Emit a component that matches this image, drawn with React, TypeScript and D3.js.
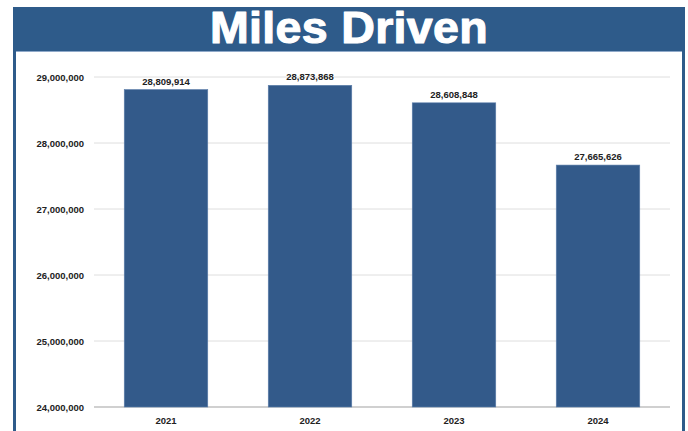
import React from "react";
import * as d3 from "d3";

const categories = ["2021", "2022", "2023", "2024"];
const values = [28809914, 28873868, 28608848, 27665626];
const yTicks = [24000000, 25000000, 26000000, 27000000, 28000000, 29000000];
const title = "Miles Driven";

export default function App() {
  const W = 688, H = 431;
  const x = d3.scaleBand<string>().domain(categories).range([94, 670]).paddingInner(0.42).paddingOuter(0.21);
  const y = d3.scaleLinear().domain([24000000, 29000000]).range([407, 77]);
  const fmt = d3.format(",");
  const font = "'Liberation Sans', Arial, sans-serif";
  return (
    <svg width={W} height={H} style={{ position: "absolute", left: 0, top: 0 }}>
      <rect x={0} y={0} width={W} height={H} fill="#fff" />
      <rect x={13} y={7} width={672} height={440} fill="#2e5b8a" />
      <rect x={16} y={51} width={666} height={400} fill="#fff" />
      <line x1={16} x2={682} y1={51.5} y2={51.5} stroke="#8fa9c9" strokeWidth={1} />
      <text transform="translate(349,43) scale(1.07,1)" textAnchor="middle" fill="#fff" stroke="#fff" strokeWidth={1.1} strokeLinejoin="round" fontFamily={font} fontWeight="bold" fontSize={43.5} style={{ letterSpacing: "0.3px" }}>{title}</text>
      {yTicks.map((t) => (
        <g key={t}>
          <line x1={94} x2={670} y1={y(t)} y2={y(t)} stroke={t === 24000000 ? "#d0d0d0" : "#dedede"} strokeWidth={t === 24000000 ? 2 : 1} />
          <text x={84} y={y(t) + 3.5} textAnchor="end" fontFamily={font} fontWeight="bold" fontSize={9.5} fill="#222">{fmt(t)}</text>
        </g>
      ))}
      {categories.map((c, i) => (
        <g key={c}>
          <rect x={x(c)!} y={y(values[i])} width={x.bandwidth()} height={y(24000000) - y(values[i])} fill="#335a8a" stroke="#5d7fab" strokeWidth={0.6} />
          <text x={x(c)! + x.bandwidth() / 2} y={y(values[i]) - 5} textAnchor="middle" fontFamily={font} fontWeight="bold" fontSize={9.5} fill="#222">{fmt(values[i])}</text>
          <text x={x(c)! + x.bandwidth() / 2} y={424} textAnchor="middle" fontFamily={font} fontWeight="bold" fontSize={9.5} fill="#222">{c}</text>
        </g>
      ))}
    </svg>
  );
}
